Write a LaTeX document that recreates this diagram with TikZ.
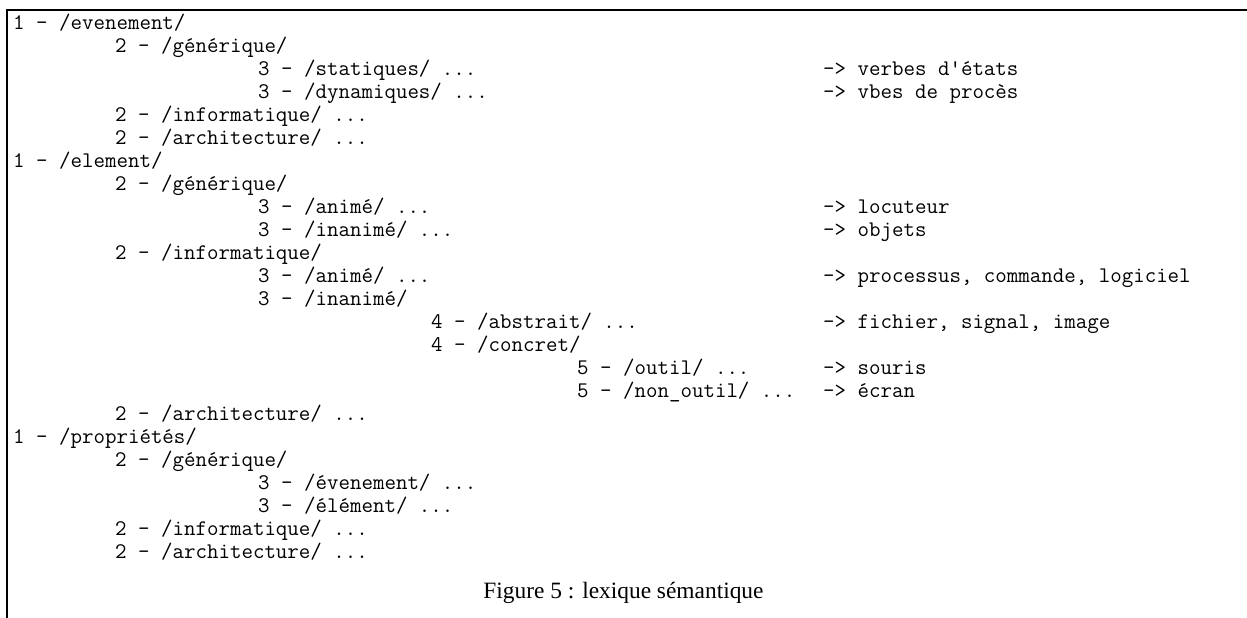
\documentclass[tikz,border=0pt]{standalone}
\usepackage{fontspec}
\newfontfamily\capfont{Liberation Serif}
\tikzset{
  entry/.style={anchor=base west, inner sep=0pt, font=\ttfamily\fontsize{22.3pt}{23pt}\selectfont},
  figcaption/.style={anchor=base, inner sep=0pt, font=\capfont\fontsize{23.4pt}{28pt}\selectfont},
  frameline/.style={line width=2.5pt, line join=miter}
}
\begin{document}
\begin{tikzpicture}
\useasboundingbox (0,0) rectangle (1247pt,-618pt);
\fill[white] (0,0) rectangle (1247pt,-618pt);
\coordinate (tr) at (1250pt,-10pt);
\coordinate (tl) at (7pt,-10pt);
\coordinate (bl) at (7pt,-621pt);
\draw[frameline] (tr) -- (tl) -- (bl);
% column positions: L1=13, L2=115, L3=258, L4=431, L5=577, arrows=823
\node[entry] (r1)  at (13pt,-30pt)     {1 - /evenement/};
\node[entry] (r2)  at (115pt,-52.96pt) {2 - /générique/};
\node[entry] (r3)  at (258pt,-75.92pt) {3 - /statiques/ ...};
\node[entry] (a3)  at (823pt,-75.92pt) {-> verbes d'états};
\node[entry] (r4)  at (258pt,-98.88pt) {3 - /dynamiques/ ...};
\node[entry] (a4)  at (823pt,-98.88pt) {-> vbes de procès};
\node[entry] (r5)  at (115pt,-121.84pt) {2 - /informatique/ ...};
\node[entry] (r6)  at (115pt,-144.8pt) {2 - /architecture/ ...};
\node[entry] (r7)  at (13pt,-167.76pt) {1 - /element/};
\node[entry] (r8)  at (115pt,-190.72pt) {2 - /générique/};
\node[entry] (r9)  at (258pt,-213.68pt) {3 - /animé/ ...};
\node[entry] (a9)  at (823pt,-213.68pt) {-> locuteur};
\node[entry] (r10) at (258pt,-236.64pt) {3 - /inanimé/ ...};
\node[entry] (a10) at (823pt,-236.64pt) {-> objets};
\node[entry] (r11) at (115pt,-259.6pt) {2 - /informatique/};
\node[entry] (r12) at (258pt,-282.56pt) {3 - /animé/ ...};
\node[entry] (a12) at (823pt,-282.56pt) {-> processus, commande, logiciel};
\node[entry] (r13) at (258pt,-305.52pt) {3 - /inanimé/};
\node[entry] (r14) at (431pt,-328.48pt) {4 - /abstrait/ ...};
\node[entry] (a14) at (823pt,-328.48pt) {-> fichier, signal, image};
\node[entry] (r15) at (431pt,-351.44pt) {4 - /concret/};
\node[entry] (r16) at (577pt,-374.4pt) {5 - /outil/ ...};
\node[entry] (a16) at (823pt,-374.4pt) {-> souris};
\node[entry] (r17) at (577pt,-397.36pt) {5 - /non\_outil/ ...};
\node[entry] (a17) at (823pt,-397.36pt) {-> écran};
\node[entry] (r18) at (115pt,-420.32pt) {2 - /architecture/ ...};
\node[entry] (r19) at (13pt,-443.28pt) {1 - /propriétés/};
\node[entry] (r20) at (115pt,-466.24pt) {2 - /générique/};
\node[entry] (r21) at (258pt,-489.2pt) {3 - /évenement/ ...};
\node[entry] (r22) at (258pt,-512.16pt) {3 - /élément/ ...};
\node[entry] (r23) at (115pt,-535.12pt) {2 - /informatique/ ...};
\node[entry] (r24) at (115pt,-558.08pt) {2 - /architecture/ ...};
\node[figcaption] (cap) at (623.5pt,-598pt) {Figure 5 : lexique sémantique};
\end{tikzpicture}
\end{document}
